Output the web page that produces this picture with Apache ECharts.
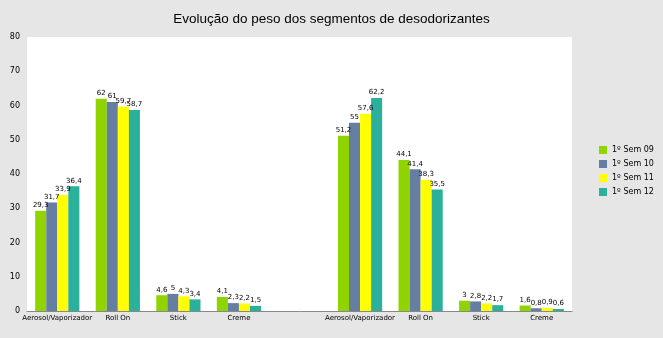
<!DOCTYPE html>
<html><head><meta charset="utf-8">
<script src="https://cdn.jsdelivr.net/npm/echarts@6/dist/echarts.min.js"></script>
<style>html,body{margin:0;padding:0;background:#e6e6e6}#c{width:663px;height:338px}</style>
</head><body><div id="c"></div>
<script>
var categories = ['Aerosol/Vaporizador','Roll On','Stick','Creme','','Aerosol/Vaporizador','Roll On','Stick','Creme'];
var seriesNames = ['1º Sem 09','1º Sem 10','1º Sem 11','1º Sem 12'];
var sem09 = [29.3, 62, 4.6, 4.1, null, 51.2, 44.1, 3, 1.6];
var sem10 = [31.7, 61, 5, 2.3, null, 55, 41.4, 2.8, 0.8];
var sem11 = [33.9, 59.7, 4.3, 2.2, null, 57.6, 38.3, 2.2, 0.9];
var sem12 = [36.4, 58.7, 3.4, 1.5, null, 62.2, 35.5, 1.7, 0.6];
var colors = ['#8fd400','#667ea2','#ffff00','#2bb09b'];
var allData = [sem09, sem10, sem11, sem12];

var chart = echarts.init(document.getElementById('c'));
chart.setOption({
  backgroundColor: '#e6e6e6',
  animation: false,
  title: {
    text: 'Evolução do peso dos segmentos de desodorizantes',
    left: 'center', top: 7,
    textStyle: {fontFamily: 'Liberation Sans', fontSize: 13.5, fontWeight: 'normal', color: '#000'}
  },
  legend: {
    orient: 'vertical', left: 594, top: 141,
    itemWidth: 8, itemHeight: 8, itemGap: 6,
    icon: 'rect',
    textStyle: {fontFamily: 'DejaVu Sans', fontSize: 8, color: '#000'},
    data: seriesNames
  },
  grid: {left: 27, right: 91, top: 37, bottom: 27, show: true, backgroundColor: '#ffffff', borderWidth: 0},
  xAxis: {
    type: 'category', data: categories,
    axisLine: {lineStyle: {color: '#888'}},
    axisTick: {show: false},
    axisLabel: {interval: 0, fontFamily: 'DejaVu Sans', fontSize: 7, color: '#000', margin: 4}
  },
  yAxis: {
    type: 'value', min: 0, max: 80, interval: 10,
    axisLine: {show: false}, axisTick: {show: false},
    splitLine: {show: false},
    axisLabel: {fontFamily: 'DejaVu Sans', fontSize: 8, color: '#000', margin: 7}
  },
  series: allData.map(function(d, i){
    return {
      name: seriesNames[i], type: 'bar', data: d,
      barGap: '0%', barCategoryGap: '27%',
      itemStyle: {color: colors[i]},
      label: {show: true, position: 'top', distance: 2, fontFamily: 'DejaVu Sans', fontSize: 7, color: '#000',
        formatter: function(p){ return String(p.value).replace('.', ','); }}
    };
  })
});
</script></body></html>
